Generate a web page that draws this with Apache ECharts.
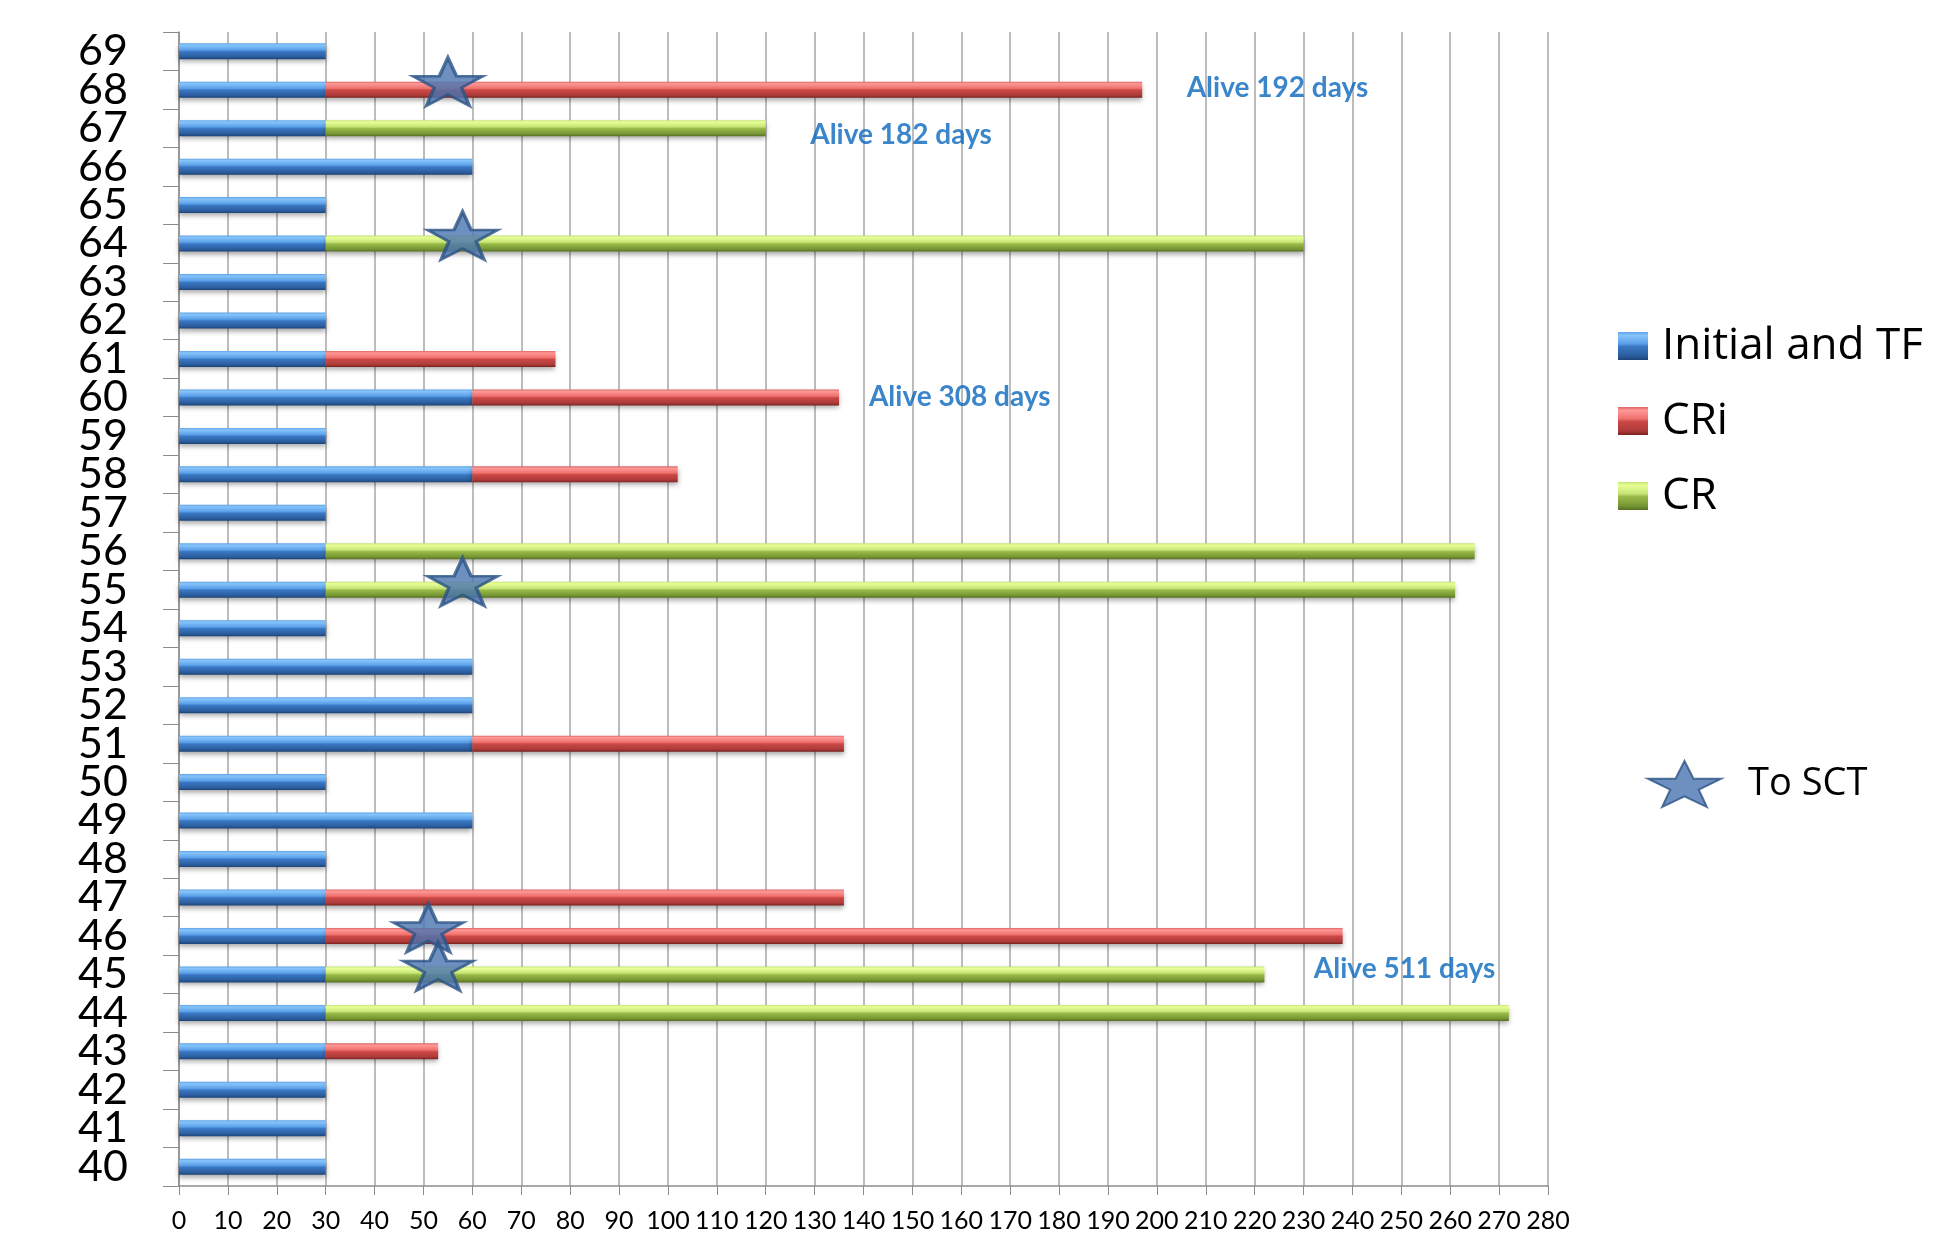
<!DOCTYPE html>
<html>
<head>
<meta charset="utf-8">
<script src="https://cdn.jsdelivr.net/npm/echarts@6/dist/echarts.min.js"></script>
<style>
html,body{margin:0;padding:0;background:#fff;}
#chart{width:1946px;height:1238px;}
</style>
</head>
<body>
<div id="chart"></div>
<script>
// Patients (category axis, bottom to top)
const patients = ['40','41','42','43','44','45','46','47','48','49','50','51','52','53','54','55','56','57','58','59','60','61','62','63','64','65','66','67','68','69'];
// Days in each phase (stacked)
const initialDays = [30,30,30,30,30,30,30,30,30,60,30,60,60,60,30,30,30,30,60,30,60,30,30,30,30,30,60,30,30,30];
const criDays     = [0,0,0,23,0,0,208,106,0,0,0,76,0,0,0,0,0,0,42,0,75,47,0,0,0,0,0,0,167,0];
const crDays      = [0,0,0,0,242,192,0,0,0,0,0,0,0,0,0,231,235,0,0,0,0,0,0,0,200,0,0,90,0,0];
// Transfer to SCT (day, patient)
const sctDays     = [55, 58, 58, 51, 53];
const sctPatients = ['68','64','55','46','45'];
// Annotations
const noteTexts    = ['Alive 192 days','Alive 182 days','Alive 308 days','Alive 511 days'];
const noteDays     = [206, 129, 141, 232];
const notePatients = ['68','67','60','45'];
const noteShift    = [-2, 7, 0, -5];
// Axis ticks
const xMin = 0, xMax = 280, xStep = 10;

const starPath = 'path://M50,0 L61.8,23.4 L98.1,23.4 L68.8,37.8 L79.4,60.7 L50,46.7 L20.6,60.7 L31.2,37.8 L1.9,23.4 L38.2,23.4 Z';

function grad(c) {
  return new echarts.graphic.LinearGradient(0,0,0,1,[
    {offset:0, color:c[0]},{offset:0.12, color:c[1]},{offset:0.42, color:c[2]},
    {offset:0.52, color:c[3]},{offset:0.85, color:c[4]},{offset:1, color:c[5]}]);
}
const blue  = ['#5fa3e8','#86c4fb','#5a9fe8','#3a78c4','#2b5d9e','#1c4476'];
const red   = ['#dc6664','#ff9896','#ee706d','#cc4846','#ac3b39','#7a2220'];
const green = ['#c4e474','#e8ff96','#c6e476','#9aba48','#769634','#567024'];

const barShadow = {shadowBlur:5, shadowColor:'rgba(0,0,0,0.35)', shadowOffsetY:3};
const z = v => v === 0 ? '-' : v;
function barSeries(name, data, colors) {
  return {
    type:'bar', stack:'days', barWidth:16, name:name, data:data.map(z),
    itemStyle:Object.assign({color:grad(colors)}, barShadow),
    emphasis:{disabled:true}
  };
}

const chart = echarts.init(document.getElementById('chart'));
chart.setOption({
  animation:false,
  backgroundColor:'#fff',
  grid:{left:179, right:398, top:32, bottom:52, containLabel:false},
  xAxis:{
    type:'value', min:xMin, max:xMax, interval:xStep,
    axisLine:{show:true, lineStyle:{color:'#8c8c8c', width:1.5}},
    axisTick:{show:true, length:9, lineStyle:{color:'#8c8c8c'}},
    axisLabel:{fontFamily:'Lato, sans-serif', fontSize:25, color:'#000', margin:22},
    splitLine:{show:true, lineStyle:{color:'#a6a6a6', width:1.5}}
  },
  yAxis:{
    type:'category', data:patients,
    axisLine:{show:true, lineStyle:{color:'#8c8c8c', width:1.5}},
    axisTick:{show:true, length:16, interval:0, lineStyle:{color:'#8c8c8c'}},
    axisLabel:{fontFamily:'Lato, sans-serif', fontSize:43, color:'#000', margin:51, interval:0},
    splitLine:{show:false}
  },
  legend:[
    {
      orient:'vertical', left:1613, top:316, itemWidth:30, itemHeight:28, itemGap:25,
      icon:'rect', selectedMode:false,
      textStyle:{fontFamily:'"Open Sans", sans-serif', fontSize:44, lineHeight:50, color:'#000', padding:[0,0,0,9]},
      data:['Initial and TF','CRi','CR']
    },
    {
      orient:'vertical', left:1642, top:754, itemWidth:73, itemHeight:47, selectedMode:false,
      textStyle:{fontFamily:'"Open Sans", sans-serif', fontSize:38, lineHeight:50, color:'#000', padding:[0,0,0,22]},
      data:[{name:'To SCT', icon:starPath}]
    }
  ],
  series:[
    barSeries('Initial and TF', initialDays, blue),
    barSeries('CRi', criDays, red),
    barSeries('CR', crDays, green),
    {
      name:'To SCT', type:'scatter', symbol:starPath, symbolSize:[70,48], symbolOffset:[0,-8], z:5,
      symbolKeepAspect:false,
      itemStyle:{color:'#4874b0', borderColor:'#2c5285', borderWidth:3},
      emphasis:{disabled:true},
      data:sctDays.map((d,i)=>[d, sctPatients[i]])
    },
    {
      name:'notes', type:'scatter', symbolSize:1, z:6, silent:true,
      itemStyle:{color:'rgba(0,0,0,0)'},
      label:{show:true, position:'right', distance:0, formatter:p=>p.data.name,
        fontFamily:'Lato, sans-serif', fontWeight:'bold', fontSize:28, color:'#0a68bd'},
      data:noteTexts.map((t,i)=>({name:t, value:[noteDays[i], notePatients[i]], label:{offset:[0, noteShift[i]]}}))
    }
  ]
});
</script>
</body>
</html>
